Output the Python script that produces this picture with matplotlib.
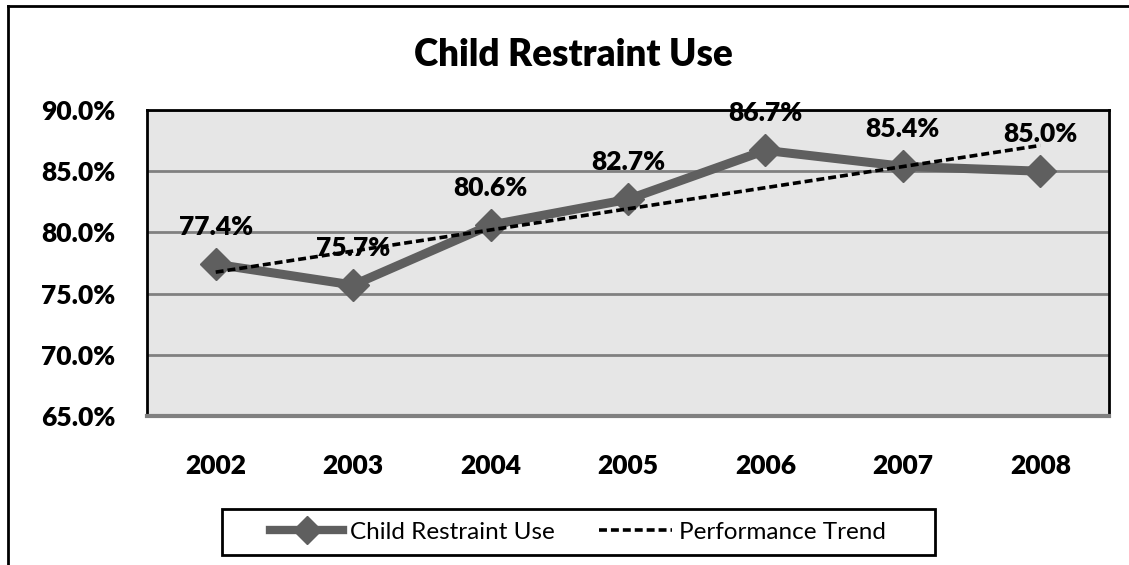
#!/usr/bin/env python3
"""Child restraint use by year, with a linear performance trend."""

import matplotlib
matplotlib.use('Agg')
from matplotlib import pyplot as plt
from matplotlib.lines import Line2D
from matplotlib.patches import Rectangle
import numpy as np

YEARS = ['2002', '2003', '2004', '2005', '2006', '2007', '2008']
USE = [77.4, 75.7, 80.6, 82.7, 86.7, 85.4, 85.0]
Y_TICKS = [65, 70, 75, 80, 85, 90]

FONT = ['Lato', 'DejaVu Sans']
GREY = '#5f5f5f'
HEAVY = 'heavy'
W, H = 1129, 565


def main():
    """Draw the chart and save it."""
    plt.rcParams['font.family'] = FONT
    fig = plt.figure(figsize=(W / 100, H / 100), dpi=100)
    ax = fig.add_axes([147 / W, 1 - 416 / H, 962 / W, 306 / H])

    x = np.arange(len(YEARS))
    slope, icpt = np.polyfit(x, USE, 1)
    trend = slope * x + icpt

    ax.set_facecolor('#e6e6e6')
    ax.plot(x, USE, color=GREY, lw=6.5, marker='D', ms=16,
            solid_joinstyle='miter', zorder=3)
    ax.plot(x, trend, color='black', lw=2.6, ls=(0, (2.2, 1.1)), zorder=4)

    for xi, v in zip(x, USE):
        ax.annotate('{:.1f}%'.format(v), (xi, v), xytext=(0, 27),
                    textcoords='offset points', ha='center', va='center',
                    fontsize=19, fontweight=HEAVY, zorder=5,
                    annotation_clip=False)

    ax.set_xlim(-0.5, len(YEARS) - 0.5)
    ax.set_ylim(65, 90)
    ax.set_yticks(Y_TICKS)
    ax.set_yticklabels(['{:.1f}%'.format(t) for t in Y_TICKS],
                       fontsize=19, fontweight=HEAVY)
    ax.set_xticks(x)
    ax.set_xticklabels(YEARS, fontsize=19, fontweight=HEAVY)
    ax.tick_params(length=0)
    ax.tick_params(axis='y', pad=23)
    ax.tick_params(axis='x', pad=27)
    ax.grid(axis='y', color='#808080', lw=2)
    ax.set_axisbelow(True)
    for side in ('top', 'left', 'right'):
        ax.spines[side].set_linewidth(2)
        ax.spines[side].set_color('black')
    ax.spines['bottom'].set_linewidth(3)
    ax.spines['bottom'].set_color('#808080')

    fig.text(573 / W, 1 - 55 / H, 'Child Restraint Use', ha='center',
             va='center', fontsize=26.5, fontweight=HEAVY)

    # outer chart frame: only left and top edges fall inside the image
    fig.add_artist(Line2D([8 / W, 8 / W], [0, 1 - 6 / H],
                          transform=fig.transFigure, color='black', lw=2))
    fig.add_artist(Line2D([8 / W, 1], [1 - 6 / H, 1 - 6 / H],
                          transform=fig.transFigure, color='black', lw=2))

    # legend box drawn by hand so its padding can be wider than tall
    fig.add_artist(Rectangle((222 / W, 1 - 555 / H), 713 / W, 46 / H,
                             transform=fig.transFigure, fill=False,
                             edgecolor='black', lw=2))
    handles = [
        Line2D([], [], color=GREY, lw=6, marker='D', ms=14),
        Line2D([], [], color='black', lw=2.6, ls=(0, (2.2, 1.1))),
    ]
    fig.legend(handles, ['Child Restraint Use', 'Performance Trend'],
               loc='center', bbox_to_anchor=(578 / W, 1 - 532 / H),
               ncol=2, frameon=False, fontsize=17.5,
               handlelength=3.0, handletextpad=0.3, columnspacing=1.8)

    fig.savefig('out.png', dpi=100)


if __name__ == '__main__':
    main()
